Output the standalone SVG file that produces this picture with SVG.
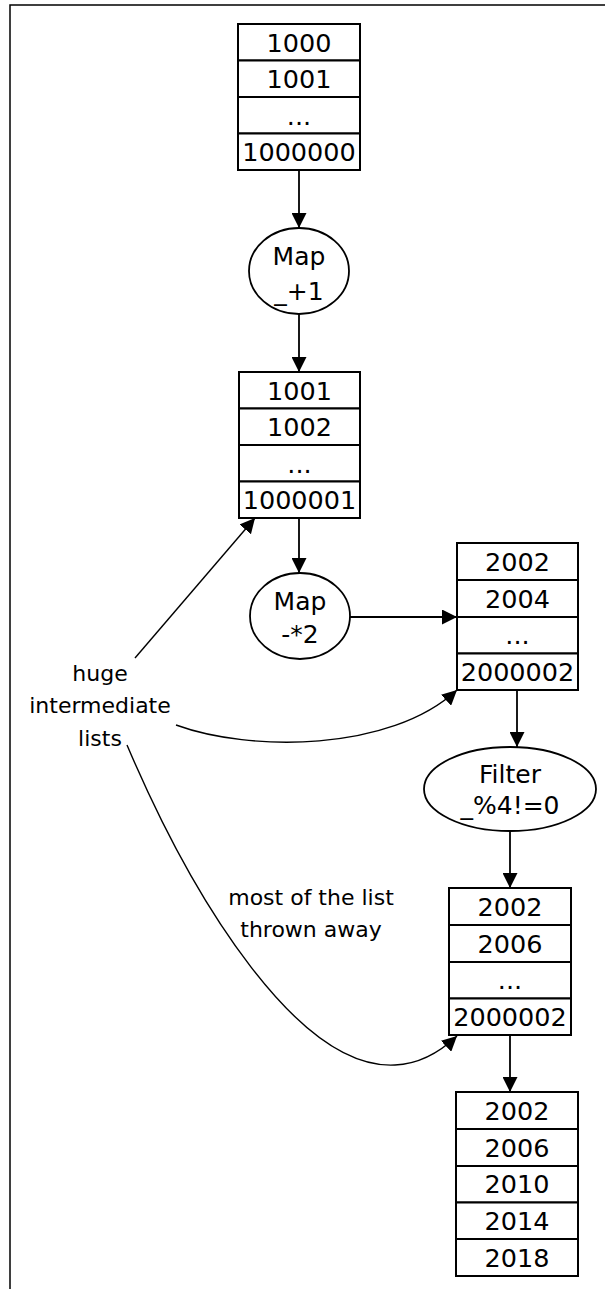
<svg xmlns="http://www.w3.org/2000/svg" width="605" height="1289" viewBox="0 0 605 1289">
<defs>
<marker id="ah" markerWidth="15" markerHeight="15" refX="15" refY="7.5" orient="auto" markerUnits="userSpaceOnUse">
<path d="M0,0 L15,7.5 L0,15 Z" fill="#000"/>
</marker>
<style>
.cell{fill:#fff;stroke:#000;stroke-width:2}
.op{fill:#fff;stroke:#000;stroke-width:1.8}
.t{font-family:"DejaVu Sans",sans-serif;font-size:25.5px;fill:#000;text-anchor:middle}
.e{font-family:"DejaVu Sans",sans-serif;font-size:25px;fill:#000;text-anchor:middle}
.lbl{font-family:"DejaVu Sans",sans-serif;font-size:22px;fill:#000;text-anchor:middle}
.ln{fill:none;stroke:#000;stroke-width:1.8}
.cv{fill:none;stroke:#000;stroke-width:1.4}
</style>
</defs>
<rect x="0" y="0" width="605" height="1289" fill="#fff"/>
<rect x="10" y="5" width="610" height="1300" fill="none" stroke="#000" stroke-width="1.5"/>

<g id="list1">
<rect class="cell" x="238" y="24" width="122" height="36.5"/>
<rect class="cell" x="238" y="60.5" width="122" height="36.5"/>
<rect class="cell" x="238" y="97" width="122" height="36.5"/>
<rect class="cell" x="238" y="133.5" width="122" height="36.5"/>
<text class="t" x="299" y="51.5">1000</text>
<text class="t" x="299" y="88">1001</text>
<text class="t" x="299" y="124.5">...</text>
<text class="t" x="299" y="161">1000000</text>
</g>

<g id="map1">
<ellipse class="op" cx="299" cy="271" rx="50" ry="43"/>
<text class="e" x="299" y="265">Map</text>
<text class="e" x="299" y="300">_+1</text>
</g>

<g id="list2">
<rect class="cell" x="239" y="372" width="121" height="36.5"/>
<rect class="cell" x="239" y="408.5" width="121" height="36.5"/>
<rect class="cell" x="239" y="445" width="121" height="36.5"/>
<rect class="cell" x="239" y="481.5" width="121" height="36.5"/>
<text class="t" x="299.5" y="399.5">1001</text>
<text class="t" x="299.5" y="436">1002</text>
<text class="t" x="299.5" y="472.5">...</text>
<text class="t" x="299.5" y="509">1000001</text>
</g>

<g id="map2">
<ellipse class="op" cx="300" cy="616" rx="50" ry="43"/>
<text class="e" x="300" y="610">Map</text>
<text class="e" x="300" y="643">-*2</text>
</g>

<g id="list3">
<rect class="cell" x="457" y="543" width="121" height="37"/>
<rect class="cell" x="457" y="580" width="121" height="37"/>
<rect class="cell" x="457" y="617" width="121" height="36.5"/>
<rect class="cell" x="457" y="653.5" width="121" height="36.5"/>
<text class="t" x="517.5" y="570.5">2002</text>
<text class="t" x="517.5" y="607.5">2004</text>
<text class="t" x="517.5" y="644">...</text>
<text class="t" x="517.5" y="680.5">2000002</text>
</g>

<g id="filter">
<ellipse class="op" cx="510" cy="789" rx="86" ry="42"/>
<text class="e" x="510" y="783">Filter</text>
<text class="e" x="510" y="814">_%4!=0</text>
</g>

<g id="list4">
<rect class="cell" x="449" y="888" width="122" height="37"/>
<rect class="cell" x="449" y="925" width="122" height="37"/>
<rect class="cell" x="449" y="962" width="122" height="36.5"/>
<rect class="cell" x="449" y="998.5" width="122" height="36.5"/>
<text class="t" x="510" y="915.5">2002</text>
<text class="t" x="510" y="952.5">2006</text>
<text class="t" x="510" y="989">...</text>
<text class="t" x="510" y="1025.5">2000002</text>
</g>

<g id="list5">
<rect class="cell" x="456" y="1092" width="122" height="37"/>
<rect class="cell" x="456" y="1129" width="122" height="37"/>
<rect class="cell" x="456" y="1166" width="122" height="36.5"/>
<rect class="cell" x="456" y="1202.5" width="122" height="36.5"/>
<rect class="cell" x="456" y="1239" width="122" height="37"/>
<text class="t" x="517" y="1119.5">2002</text>
<text class="t" x="517" y="1156.5">2006</text>
<text class="t" x="517" y="1193">2010</text>
<text class="t" x="517" y="1229.5">2014</text>
<text class="t" x="517" y="1266.5">2018</text>
</g>

<g id="label-huge">
<text class="lbl" x="100" y="681">huge</text>
<text class="lbl" x="100" y="713">intermediate</text>
<text class="lbl" x="100" y="746">lists</text>
</g>

<g id="label-thrown">
<text class="lbl" x="311" y="905">most of the list</text>
<text class="lbl" x="311" y="937">thrown away</text>
</g>

<g id="connectors">
<line class="ln" x1="299" y1="170" x2="299" y2="228" marker-end="url(#ah)"/>
<line class="ln" x1="299" y1="314" x2="299" y2="372" marker-end="url(#ah)"/>
<line class="ln" x1="299" y1="518" x2="299" y2="573" marker-end="url(#ah)"/>
<line class="ln" x1="350" y1="617" x2="457" y2="617" marker-end="url(#ah)"/>
<line class="ln" x1="517" y1="690" x2="517" y2="747" marker-end="url(#ah)"/>
<line class="ln" x1="510" y1="831" x2="510" y2="888" marker-end="url(#ah)"/>
<line class="ln" x1="510" y1="1035" x2="510" y2="1092" marker-end="url(#ah)"/>
<line class="cv" x1="135" y1="658" x2="255" y2="518" marker-end="url(#ah)"/>
<path class="cv" d="M176,725 C250,752 390,752 457,690" marker-end="url(#ah)"/>
<path class="cv" d="M127,745 C195,905 300,1070 395,1065 C420,1064 440,1052 457,1036" marker-end="url(#ah)"/>
</g>
</svg>
